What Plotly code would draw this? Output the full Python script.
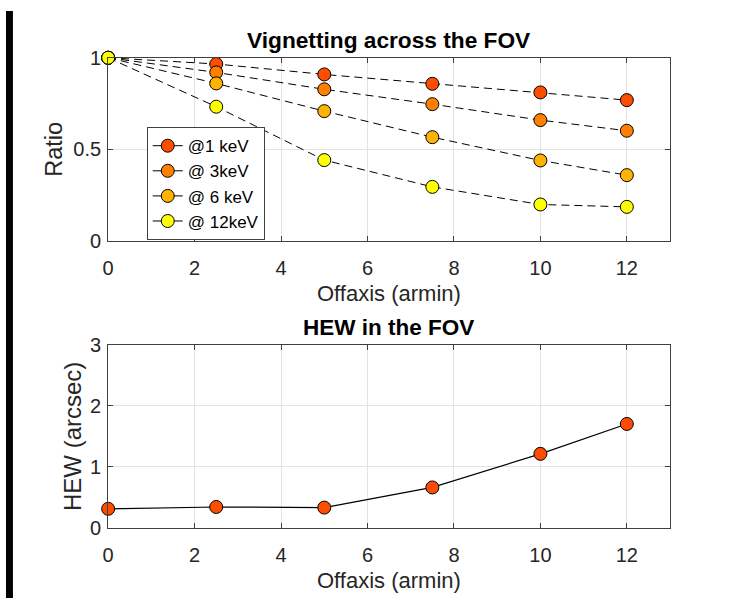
import plotly.graph_objects as go

# Off-axis angles (arcmin)
offaxis = [0, 2.5, 5, 7.5, 10, 12]

# Vignetting ratio per energy band
energy_labels = ["@1 keV", "@ 3keV", "@ 6 keV", "@ 12keV"]
vig_1kev = [1.0, 0.966, 0.909, 0.858, 0.811, 0.769]
vig_3kev = [1.0, 0.920, 0.828, 0.747, 0.660, 0.602]
vig_6kev = [1.0, 0.860, 0.709, 0.567, 0.440, 0.360]
vig_12kev = [1.0, 0.733, 0.442, 0.296, 0.200, 0.187]
vig_series = [vig_1kev, vig_3kev, vig_6kev, vig_12kev]
marker_colors = ["#FF4D00", "#FF8000", "#FFB300", "#FFFF00"]

# Half energy width across the field of view (arcsec)
hew = [0.31, 0.34, 0.33, 0.66, 1.21, 1.70]

x_ticks = [0, 2, 4, 6, 8, 10, 12]

W, H = 738, 609
FONT = "Liberation Sans, Arial, Helvetica, sans-serif"
AX = "#262626"
AXLINE = "#404040"


def px_x(p):
    return p / W


def px_y(p):
    return 1 - p / H


fig = go.Figure()

# Vignetting curves: dashed connectors with circle markers
for vals, name, col in zip(vig_series, energy_labels, marker_colors):
    fig.add_trace(go.Scatter(
        x=offaxis, y=vals, mode="lines+markers", xaxis="x", yaxis="y",
        line=dict(color="black", width=1, dash="8px,5px"),
        marker=dict(size=13, color=col, line=dict(color="black", width=1)),
        showlegend=False, cliponaxis=False, name=name,
    ))
    # legend key uses a solid line through the marker
    fig.add_trace(go.Scatter(
        x=[None], y=[None], mode="lines+markers", name=name,
        xaxis="x", yaxis="y",
        line=dict(color="black", width=1),
        marker=dict(size=13, color=col, line=dict(color="black", width=1)),
    ))

# HEW curve
fig.add_trace(go.Scatter(
    x=offaxis, y=hew, mode="lines+markers", xaxis="x2", yaxis="y2",
    line=dict(color="black", width=1.2),
    marker=dict(size=13, color=marker_colors[0], line=dict(color="black", width=1)),
    showlegend=False, cliponaxis=False, name="HEW",
))

axis_common = dict(
    showline=True, linecolor=AXLINE, linewidth=1, mirror="ticks",
    ticks="inside", ticklen=5, tickcolor=AXLINE, tickwidth=1,
    showgrid=True, gridcolor="#e3e3e3", gridwidth=1, zeroline=False,
    tickfont=dict(family=FONT, size=20, color=AX),
)

x_dom = [px_x(103.0), px_x(669.5)]

fig.update_layout(
    width=W, height=H,
    margin=dict(l=0, r=0, t=0, b=0),
    paper_bgcolor="white", plot_bgcolor="white",
    font=dict(family=FONT, color=AX),
    xaxis=dict(domain=x_dom, anchor="y", range=[0, 13], tickvals=x_ticks,
               ticklabelstandoff=9, **axis_common),
    yaxis=dict(domain=[px_y(238.8), px_y(48.5)], anchor="x", range=[0, 1],
               tickvals=[0, 0.5, 1], ticktext=["0", "0.5", "1"],
               ticklabelstandoff=2, **axis_common),
    xaxis2=dict(domain=x_dom, anchor="y2", range=[0, 13], tickvals=x_ticks,
                ticklabelstandoff=9, **axis_common),
    yaxis2=dict(domain=[px_y(536.1), px_y(346.1)], anchor="x2", range=[0, 3],
                tickvals=[0, 1, 2, 3], ticklabelstandoff=2, **axis_common),
    legend=dict(
        x=px_x(141.9), y=px_y(120.5), xanchor="left", yanchor="top",
        bgcolor="white", bordercolor=AXLINE, borderwidth=1,
        font=dict(family=FONT, size=17, color="black"),
        tracegroupgap=0, itemwidth=30,
    ),
    showlegend=True,
)

annotations = [
    dict(text="<b>Vignetting across the FOV</b>", x=px_x(385.4), y=px_y(30.1),
         font=dict(size=22.7, color="black")),
    dict(text="<b>HEW in the FOV</b>", x=px_x(385.4), y=px_y(328.1),
         font=dict(size=22.5, color="black")),
    dict(text="Offaxis (armin)", x=px_x(386.4), y=px_y(292.8),
         font=dict(size=22, color=AX)),
    dict(text="Offaxis (armin)", x=px_x(386.4), y=px_y(590.9),
         font=dict(size=22, color=AX)),
    dict(text="Ratio", x=px_x(49.0), y=px_y(143.3), textangle=-90,
         font=dict(size=23.5, color=AX)),
    dict(text="HEW (arcsec)", x=px_x(67.2), y=px_y(441.3), textangle=-90,
         font=dict(size=24, color=AX)),
]
for a in annotations:
    a.update(xref="paper", yref="paper", showarrow=False,
             xanchor="center", yanchor="middle")
fig.update_layout(annotations=annotations)

# dark strip along the left edge of the canvas
fig.update_layout(shapes=[
    dict(type="rect", xref="paper", yref="paper", x0=0, x1=px_x(7), y0=0, y1=1,
         fillcolor="black", line=dict(width=0), layer="above"),
])

fig.write_html("out.html")
